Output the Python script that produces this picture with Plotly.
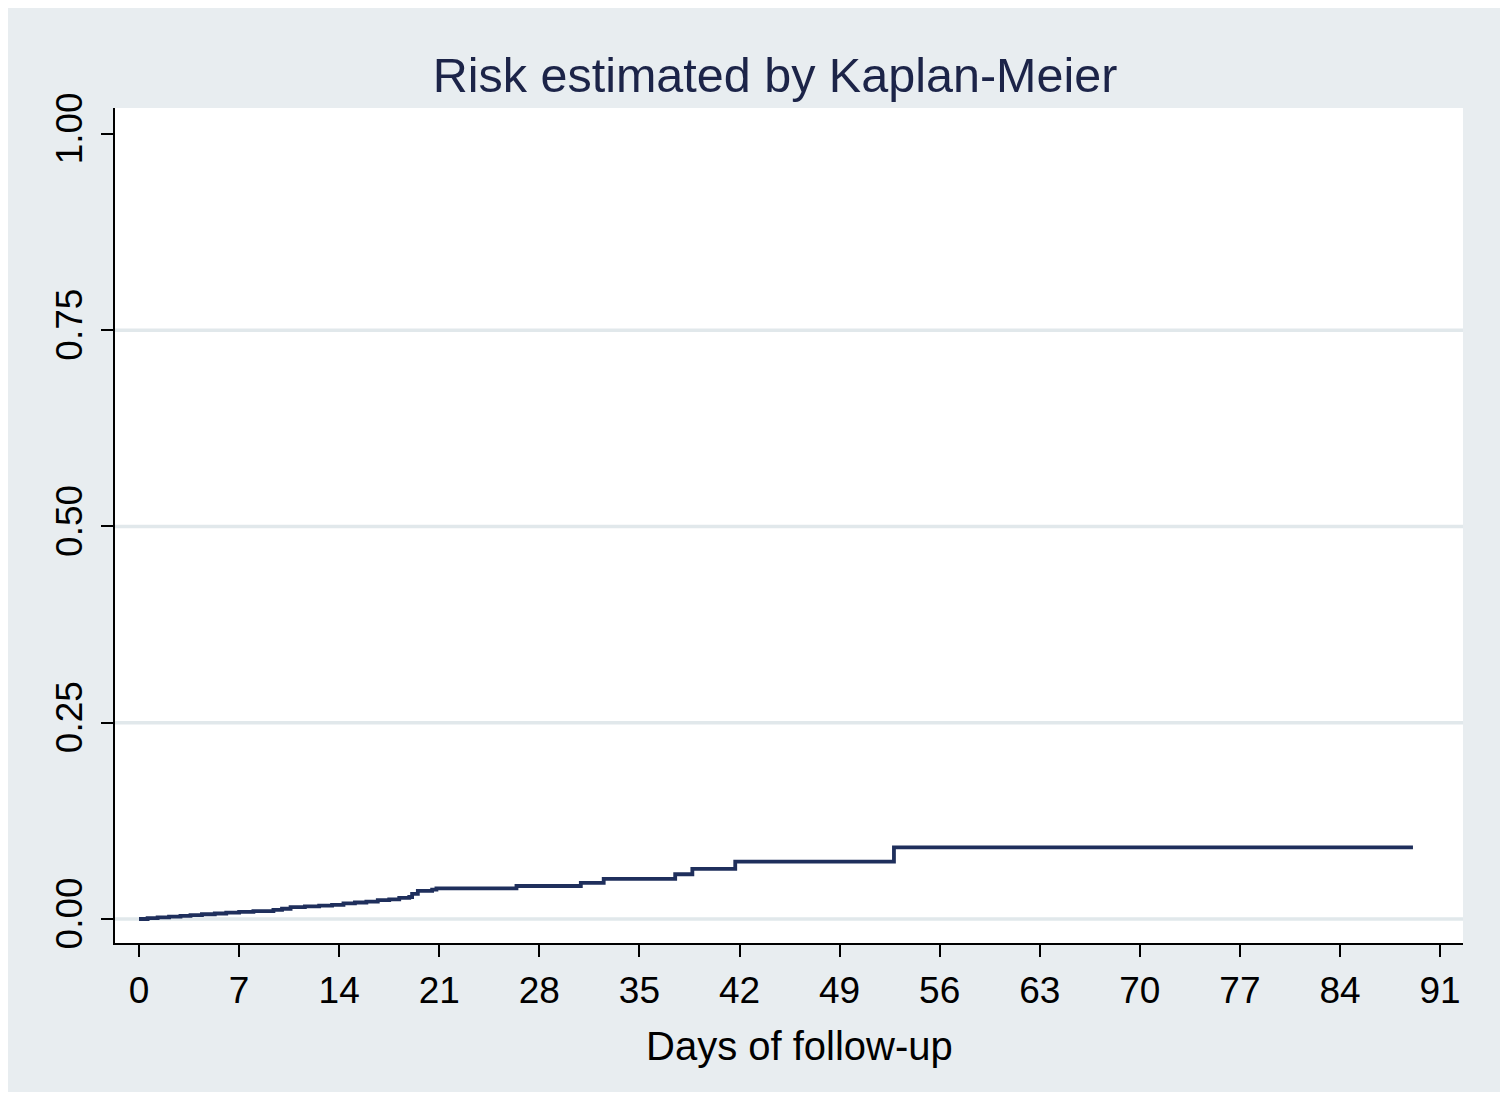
import plotly.graph_objects as go

# Kaplan-Meier cumulative risk
days = [0, 0.6, 1.3, 2.1, 2.9, 3.6, 4.4, 5.3, 6.1, 7.0, 8.0, 9.4, 10.0, 10.6,
        11.6, 12.6, 13.5, 14.3, 15.1, 15.9, 16.7, 17.5, 18.2, 18.9, 19.1,
        19.5, 20.5, 20.8, 26.4, 30.9, 32.5, 37.5, 38.7, 41.7, 52.8, 89.1]
risk = [0.000, 0.001, 0.002, 0.003, 0.004, 0.005, 0.006, 0.007, 0.008, 0.009,
        0.010, 0.0115, 0.013, 0.015, 0.016, 0.017, 0.018, 0.020, 0.021, 0.022,
        0.024, 0.025, 0.027, 0.028, 0.032, 0.0357, 0.0373, 0.039, 0.042, 0.046,
        0.051, 0.057, 0.0637, 0.073, 0.0913, 0.0913]

x_ticks = [0, 7, 14, 21, 28, 35, 42, 49, 56, 63, 70, 77, 84, 91]
y_ticks = [0, 0.25, 0.5, 0.75, 1.0]
y_tick_labels = ["0.00", "0.25", "0.50", "0.75", "1.00"]
grid_vals = [0, 0.25, 0.5, 0.75]

title_text = "Risk estimated by Kaplan-Meier"
x_title = "Days of follow-up"

OFF = 8  # page offset of the figure
W, H = 1496, 1084
L, R, T, B = 107, 41, 100, 149
pw, ph = W - L - R, H - T - B

def px_x(p):
    return (p - OFF - L) / pw

def px_y(p):
    return (H - B - (p - OFF)) / ph

BG = "#E8EDF0"
NAVY = "#1F2F5C"

fig = go.Figure()
fig.add_trace(go.Scatter(x=days, y=risk, mode="lines", line=dict(color=NAVY, width=3.8, shape="hv"),
                         hoverinfo="skip", showlegend=False))

shapes = []
for g in grid_vals:
    shapes.append(dict(type="line", xref="paper", yref="y", x0=0, x1=1, y0=g, y1=g,
                       line=dict(color="#E1E8EB", width=3.5), layer="below"))

fig.update_layout(
    width=W, height=H,
    margin=dict(l=L, r=R, t=T, b=B),
    paper_bgcolor=BG,
    plot_bgcolor="white",
    shapes=shapes,
    font=dict(family="Liberation Sans, Arial, sans-serif", color="black"),
    title=dict(text=title_text, x=px_x(775), xref="paper", xanchor="center",
               y=1 - (75 - OFF) / H, yref="container", yanchor="middle",
               font=dict(size=48.5, color="#1C2448")),
    annotations=[dict(text=x_title, xref="paper", yref="paper", x=px_x(799), y=px_y(1046),
                      xanchor="center", yanchor="middle", showarrow=False,
                      font=dict(size=40, color="black"))],
    xaxis=dict(range=[-1.68, 92.6], tickvals=x_ticks, ticks="outside", ticklen=12, tickwidth=2,
               tickcolor="black", showgrid=False, zeroline=False, showline=True, linecolor="black",
               linewidth=2, tickfont=dict(size=37), ticklabelstandoff=2),
    yaxis=dict(range=[-0.0306, 1.033], tickvals=y_ticks, ticktext=y_tick_labels, ticks="outside",
               ticklen=12, tickwidth=2, tickcolor="black", showgrid=False, zeroline=False,
               showline=True, linecolor="black", linewidth=2, tickangle=-90,
               tickfont=dict(size=37), ticklabelstandoff=4),
)

fig.write_html("out.html")
